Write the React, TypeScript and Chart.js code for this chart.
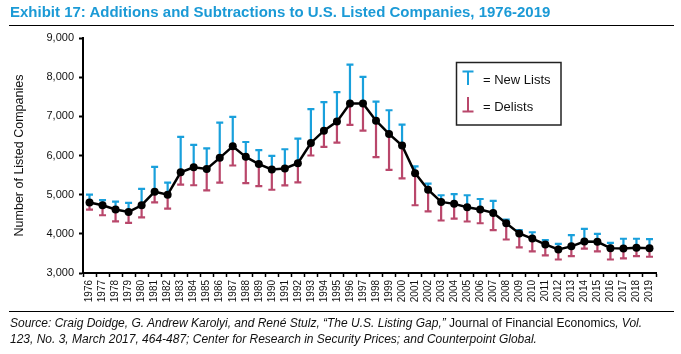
import React, { useEffect, useRef } from "react";
import { Chart, registerables } from "chart.js";

Chart.register(...registerables);

const years = [
  "1976","1977","1978","1979","1980","1981","1982","1983","1984","1985",
  "1986","1987","1988","1989","1990","1991","1992","1993","1994","1995",
  "1996","1997","1998","1999","2000","2001","2002","2003","2004","2005",
  "2006","2007","2008","2009","2010","2011","2012","2013","2014","2015",
  "2016","2017","2018","2019",
];

const listedCompanies = [
  4800, 4730, 4620, 4560, 4730, 5075, 5000, 5570, 5700, 5655,
  5940, 6235, 5965, 5780, 5645, 5670, 5805, 6320, 6635, 6865,
  7330, 7330, 6890, 6550, 6255, 5550, 5125, 4815, 4765, 4680,
  4620, 4535, 4270, 4010, 3880, 3730, 3600, 3680, 3805, 3795,
  3635, 3625, 3645, 3635,
];

const newLists = [
  200, 130, 200, 230, 420, 635, 305, 905, 570, 525,
  900, 750, 380, 355, 345, 490, 625, 865, 730, 755,
  990, 680, 485, 605, 535, 170, 155, 170, 250, 305,
  270, 305, 95, 85, 160, 110, 145, 285, 320, 205,
  135, 250, 230, 230,
];

const delists = [
  180, 255, 300, 280, 310, 270, 355, 315, 460, 545,
  635, 490, 670, 560, 520, 435, 490, 320, 415, 535,
  550, 695, 930, 915, 840, 820, 550, 475, 375, 365,
  350, 440, 415, 355, 330, 280, 255, 250, 185, 245,
  290, 250, 215, 220,
];

const yTicks = [3000, 4000, 5000, 6000, 7000, 8000, 9000];

const BLUE = "#19a0dc";
const RED = "#b9476b";
const FONT = "'Liberation Sans', Arial, sans-serif";

const errorBarPlugin = {
  id: "errorBars",
  beforeDatasetsDraw(chart: any) {
    const { ctx } = chart;
    const x = chart.scales.x;
    const y = chart.scales.y;
    const cap = 3.5;
    ctx.save();
    ctx.lineWidth = 2.2;
    listedCompanies.forEach((v, i) => {
      const px = x.getPixelForValue(i);
      const py = y.getPixelForValue(v);
      const top = y.getPixelForValue(v + newLists[i]);
      const bot = y.getPixelForValue(v - delists[i]);
      ctx.strokeStyle = BLUE;
      ctx.beginPath();
      ctx.moveTo(px, py);
      ctx.lineTo(px, top);
      ctx.moveTo(px - cap, top);
      ctx.lineTo(px + cap, top);
      ctx.stroke();
      ctx.strokeStyle = RED;
      ctx.beginPath();
      ctx.moveTo(px, py);
      ctx.lineTo(px, bot);
      ctx.moveTo(px - cap, bot);
      ctx.lineTo(px + cap, bot);
      ctx.stroke();
    });
    ctx.restore();
  },
};

const legendPlugin = {
  id: "customLegend",
  afterDraw(chart: any) {
    const { ctx } = chart;
    ctx.save();
    ctx.strokeStyle = "#222";
    ctx.lineWidth = 1.5;
    ctx.strokeRect(456.5, 62.5, 104.5, 62.5);
    ctx.lineWidth = 2;
    ctx.strokeStyle = BLUE;
    ctx.beginPath();
    ctx.moveTo(462.5, 71.5);
    ctx.lineTo(473.5, 71.5);
    ctx.moveTo(468, 71.5);
    ctx.lineTo(468, 85);
    ctx.stroke();
    ctx.strokeStyle = RED;
    ctx.beginPath();
    ctx.moveTo(468, 97);
    ctx.lineTo(468, 111.5);
    ctx.moveTo(462.5, 111.5);
    ctx.lineTo(473.5, 111.5);
    ctx.stroke();
    ctx.fillStyle = "#111";
    ctx.font = `13px ${FONT}`;
    ctx.textBaseline = "middle";
    ctx.textAlign = "left";
    ctx.fillText("= New Lists", 483, 80);
    ctx.fillText("= Delists", 483, 107);
    ctx.restore();
  },
};

export default function App() {
  const ref = useRef<HTMLCanvasElement | null>(null);

  useEffect(() => {
    if (!ref.current) return;
    const chart = new Chart(ref.current, {
      type: "line",
      data: {
        labels: years,
        datasets: [
          {
            label: "Number of Listed Companies",
            data: listedCompanies,
            borderColor: "#000",
            backgroundColor: "#000",
            borderWidth: 2.5,
            pointRadius: 4,
            pointBackgroundColor: "#000",
            pointBorderColor: "#000",
            pointBorderWidth: 0,
            tension: 0,
          },
        ],
      },
      options: {
        animation: false,
        responsive: false,
        maintainAspectRatio: false,
        layout: { padding: { top: 38, left: 0, right: 25, bottom: 51 } },
        plugins: {
          legend: { display: false },
          tooltip: { enabled: false },
          title: { display: false },
        },
        scales: {
          x: {
            type: "category",
            offset: true,
            afterFit(scale: any) {
              scale.height = 30;
            },
            grid: {
              offset: true,
              drawOnChartArea: false,
              drawTicks: true,
              tickLength: 4,
              tickWidth: 1.5,
              tickColor: "#000",
            },
            border: { display: true, color: "#000", width: 2 },
            ticks: {
              autoSkip: false,
              maxRotation: 90,
              minRotation: 90,
              padding: 3,
              color: "#111",
              font: { family: FONT, size: 10 },
            },
          },
          y: {
            min: 3000,
            max: 9000,
            afterFit(scale: any) {
              scale.width = 83;
            },
            afterBuildTicks(scale: any) {
              scale.ticks = yTicks.map((v) => ({ value: v }));
            },
            grid: {
              drawOnChartArea: false,
              drawTicks: true,
              tickLength: 4,
              tickWidth: 2,
              tickColor: "#000",
            },
            border: { display: true, color: "#000", width: 2 },
            ticks: {
              padding: 5,
              color: "#111",
              font: { family: FONT, size: 11 },
              callback: (v: any) => Number(v).toLocaleString("en-US"),
            },
            title: {
              display: true,
              text: "Number of Listed Companies",
              color: "#111",
              font: { family: FONT, size: 12.5 },
              padding: { top: 12, bottom: 0 },
            },
          },
        },
      },
      plugins: [errorBarPlugin, legendPlugin],
    });
    return () => chart.destroy();
  }, []);

  return (
    <div
      style={{
        position: "absolute",
        left: 0,
        top: 0,
        width: 681,
        height: 354,
        background: "#fff",
        overflow: "hidden",
        fontFamily: FONT,
      }}
    >
      <canvas
        ref={ref}
        width={681}
        height={354}
        style={{ position: "absolute", left: 0, top: 0, width: 681, height: 354 }}
      />
      <div
        style={{
          position: "absolute",
          left: 10,
          top: 3,
          fontSize: 15,
          fontWeight: "bold",
          color: "#1b9ad6",
          whiteSpace: "nowrap",
          lineHeight: "18px",
        }}
      >
        Exhibit 17: Additions and Subtractions to U.S. Listed Companies, 1976-2019
      </div>
      <div
        style={{
          position: "absolute",
          left: 9,
          top: 25,
          width: 665,
          height: 0,
          borderTop: "1.5px solid #000",
        }}
      />
      <div
        style={{
          position: "absolute",
          left: 9,
          top: 311,
          width: 665,
          height: 0,
          borderTop: "1.5px solid #000",
        }}
      />
      <div
        style={{
          position: "absolute",
          left: 10,
          top: 315,
          fontSize: 12,
          lineHeight: "16px",
          color: "#111",
          whiteSpace: "nowrap",
        }}
      >
        <div>
          <i>Source: Craig Doidge, G. Andrew Karolyi, and René Stulz, “The U.S. Listing Gap,”</i> Journal of Financial
          Economics<i>, Vol.</i>
        </div>
        <div>
          <i>123, No. 3, March 2017, 464-487; Center for Research in Security Prices; and Counterpoint Global.</i>
        </div>
      </div>
    </div>
  );
}
